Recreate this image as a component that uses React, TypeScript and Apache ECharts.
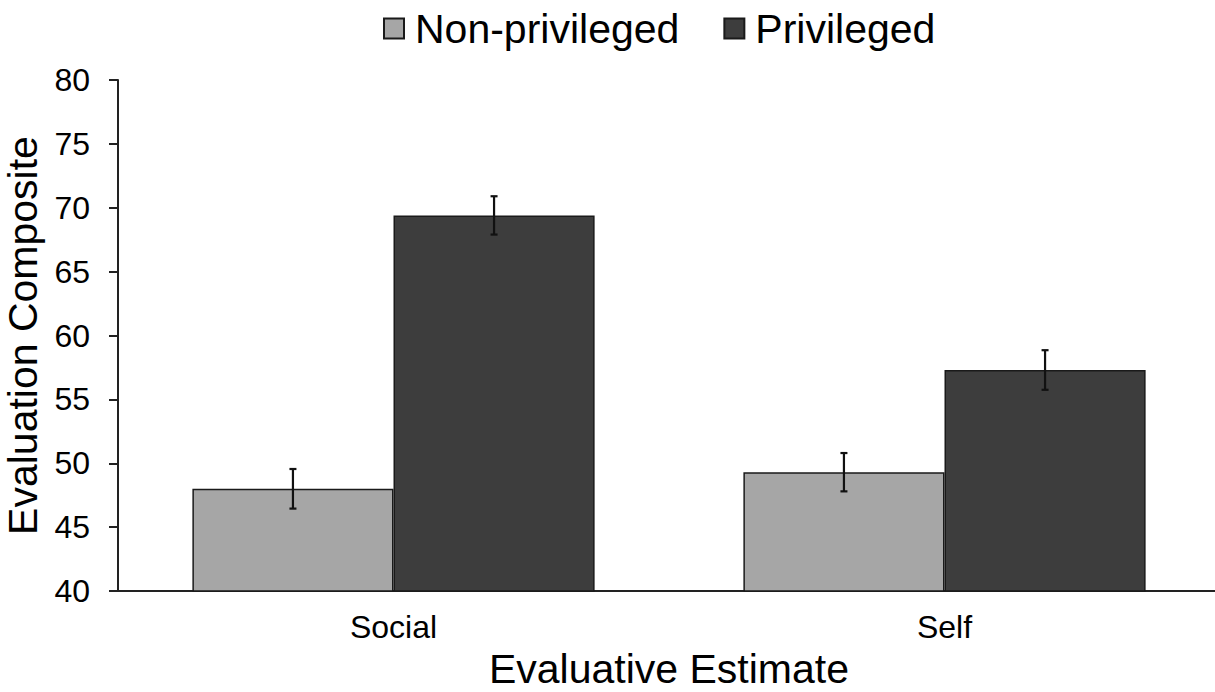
import React, { useEffect, useRef } from "react";
import * as echarts from "echarts";

const categories = ["Social", "Self"];
const seriesNames = ["Non-privileged", "Privileged"];
const nonPrivileged = [48.0, 49.3];
const privileged = [69.4, 57.3];
const nonPrivilegedErr = [1.55, 1.5];
const privilegedErr = [1.5, 1.55];
const yTicks = { min: 40, max: 80, interval: 5 };

const FONT = "'Liberation Sans', Arial, sans-serif";
const CAT_GAP = 0.27;

function errData(vals: number[], errs: number[]) {
  return vals.map((v, i) => [i, v - errs[i], v + errs[i]]);
}

function makeErrRender(sign: number) {
  return (params: any, api: any) => {
    const x = api.value(0);
    const lo = api.value(1);
    const hi = api.value(2);
    const top = api.coord([x, hi]);
    const bot = api.coord([x, lo]);
    const bandW = api.size([1, 0])[0];
    const barW = (bandW * (1 - CAT_GAP)) / 2;
    const cx = top[0] + (sign * barW) / 2;
    const cap = 3.5;
    const style = { stroke: "#111", lineWidth: 2.2 };
    return {
      type: "group",
      children: [
        { type: "line", shape: { x1: cx, y1: top[1], x2: cx, y2: bot[1] }, style },
        { type: "line", shape: { x1: cx - cap, y1: top[1], x2: cx + cap, y2: top[1] }, style },
        { type: "line", shape: { x1: cx - cap, y1: bot[1], x2: cx + cap, y2: bot[1] }, style },
      ],
    };
  };
}

export default function App() {
  const ref = useRef<HTMLDivElement>(null);
  useEffect(() => {
    if (!ref.current) return;
    const chart = echarts.init(ref.current, undefined, { renderer: "svg" });
    chart.setOption({
      animation: false,
      backgroundColor: "#fff",
      textStyle: { fontFamily: FONT },
      legend: {
        data: seriesNames,
        left: 383,
        top: 8,
        padding: 0,
        icon: "rect",
        itemWidth: 20,
        itemHeight: 20,
        itemGap: 44,
        textStyle: { fontSize: 41, color: "#000", fontFamily: FONT, padding: [0, 0, 0, 6] },
      },
      grid: {
        left: 118,
        top: 80,
        width: 1102,
        height: 511,
        containLabel: false,
        outerBoundsMode: "none",
      },
      xAxis: {
        type: "category",
        data: categories,
        axisLine: { lineStyle: { color: "#222", width: 2 } },
        axisTick: { show: false },
        axisLabel: { fontSize: 32, color: "#000", margin: 20, fontFamily: FONT },
        name: "Evaluative Estimate",
        nameLocation: "middle",
        nameGap: 57,
        nameTextStyle: { fontSize: 41, color: "#000", fontFamily: FONT },
      },
      yAxis: {
        type: "value",
        min: yTicks.min,
        max: yTicks.max,
        interval: yTicks.interval,
        splitLine: { show: false },
        axisLine: { show: true, lineStyle: { color: "#222", width: 2 } },
        axisTick: { show: true, length: 9, lineStyle: { color: "#222", width: 2 } },
        axisLabel: { fontSize: 32, color: "#000", margin: 28, fontFamily: FONT },
        name: "Evaluation Composite",
        nameLocation: "middle",
        nameGap: 67,
        nameTextStyle: { fontSize: 41, color: "#000", fontFamily: FONT },
      },
      series: [
        {
          name: seriesNames[0],
          type: "bar",
          data: nonPrivileged,
          barGap: "0%",
          barCategoryGap: CAT_GAP * 100 + "%",
          itemStyle: { color: "#a6a6a6", borderColor: "#1a1a1a", borderWidth: 1.5 },
        },
        {
          name: seriesNames[1],
          type: "bar",
          data: privileged,
          barGap: "0%",
          barCategoryGap: CAT_GAP * 100 + "%",
          itemStyle: { color: "#3d3d3d", borderColor: "#1a1a1a", borderWidth: 1.5 },
        },
        {
          type: "custom",
          data: errData(nonPrivileged, nonPrivilegedErr),
          encode: { x: 0, y: [1, 2] },
          renderItem: makeErrRender(-1),
          z: 10,
        },
        {
          type: "custom",
          data: errData(privileged, privilegedErr),
          encode: { x: 0, y: [1, 2] },
          renderItem: makeErrRender(1),
          z: 10,
        },
      ],
    });
    return () => chart.dispose();
  }, []);
  return (
    <div
      ref={ref}
      style={{ position: "absolute", left: 0, top: 0, width: 1215, height: 692, background: "#fff" }}
    />
  );
}
